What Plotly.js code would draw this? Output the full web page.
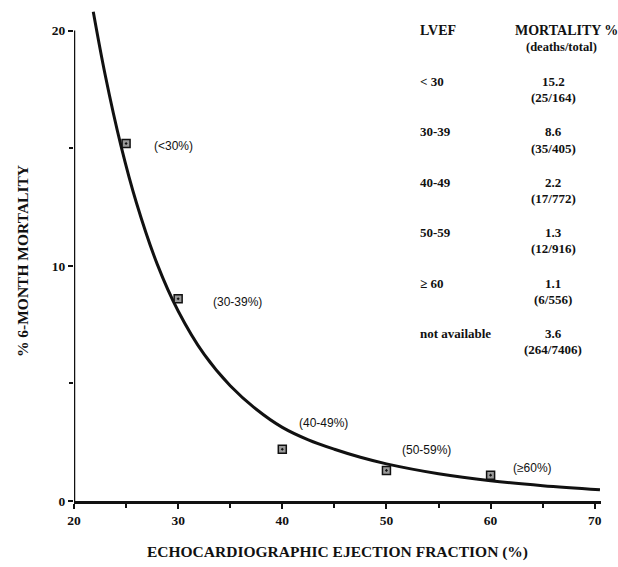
<!DOCTYPE html>
<html>
<head>
<meta charset="utf-8">
<script src="https://cdn.plot.ly/plotly-3.0.1.min.js"></script>
<style>html,body{margin:0;padding:0;background:#fff;}#chart{width:618px;height:567px;}</style>
</head>
<body>
<div id="chart"></div>
<script>
// Table data
const lvefCats = ['< 30', '30-39', '40-49', '50-59', '\u2265 60', 'not available'];
const mortality = [15.2, 8.6, 2.2, 1.3, 1.1, 3.6];
const deaths = [25, 35, 17, 12, 6, 264];
const totals = [164, 405, 772, 916, 556, 7406];

// Plotted group points
const pointX = [25, 30, 40, 50, 60];
const pointY = [15.2, 8.6, 2.2, 1.3, 1.1];
const pointLabels = ['(<30%)', '(30-39%)', '(40-49%)', '(50-59%)', '(\u226560%)'];

// Fitted curve
const curveX = [21.85, 23, 24.5, 26, 28, 30, 32.5, 35, 37.5, 40, 42.5, 45, 47.5, 50, 55, 60, 65, 70.5];
const curveY = [20.8, 18.1, 15.12, 12.67, 10.06, 8.08, 6.23, 4.9, 3.9, 3.13, 2.6, 2.2, 1.86, 1.58, 1.16, 0.86, 0.65, 0.48];

const xTicks = [20, 30, 40, 50, 60, 70];
const yTicks = [0, 10, 20];

const ink = '#111';
const serifB = {family: 'Liberation Serif, Times New Roman, serif', size: 13, color: ink, weight: 'bold'};
const sans = {family: 'Liberation Sans, Arial, sans-serif', size: 12, color: ink};

// layout helpers (pixel -> paper)
const L = 74, T = 0, W = 527, H = 501;
const px = p => (p - L) / W;
const py = p => (H - p) / H;

const annotations = [];
// point labels
const labelOffsets = [[2.46, -0.1], [3.2, -0.12], [1.37, 1.1], [1.3, 0.87], [2.0, 0.29]];
pointX.forEach((x, i) => {
  annotations.push({x: x + labelOffsets[i][0], y: pointY[i] + labelOffsets[i][1], xref: 'x', yref: 'y',
    text: pointLabels[i], showarrow: false, xanchor: 'left', yanchor: 'middle', font: sans});
});
// table header
annotations.push({x: px(418), y: py(31), xref: 'paper', yref: 'paper', text: 'LVEF', showarrow: false,
  xanchor: 'left', yanchor: 'middle', font: Object.assign({}, serifB, {size: 14})});
annotations.push({x: px(513), y: py(31), xref: 'paper', yref: 'paper', text: 'MORTALITY %', showarrow: false,
  xanchor: 'left', yanchor: 'middle', font: Object.assign({}, serifB, {size: 14})});
annotations.push({x: px(561), y: py(47), xref: 'paper', yref: 'paper', text: '(deaths/total)', showarrow: false,
  xanchor: 'center', yanchor: 'middle', font: Object.assign({}, serifB, {size: 12.5})});
const rowTop = [81, 132, 182, 232, 283, 333];
lvefCats.forEach((c, i) => {
  annotations.push({x: px(418), y: py(rowTop[i]), xref: 'paper', yref: 'paper', text: c, showarrow: false,
    xanchor: 'left', yanchor: 'middle', font: serifB});
  annotations.push({x: px(553), y: py(rowTop[i]), xref: 'paper', yref: 'paper', text: mortality[i].toFixed(1), showarrow: false,
    xanchor: 'center', yanchor: 'middle', font: serifB});
  annotations.push({x: px(553), y: py(rowTop[i] + 16), xref: 'paper', yref: 'paper', text: '(' + deaths[i] + '/' + totals[i] + ')', showarrow: false,
    xanchor: 'center', yanchor: 'middle', font: serifB});
});
// y axis title
annotations.push({x: px(22), y: 10.2, xref: 'paper', yref: 'y', text: '% 6-MONTH MORTALITY', textangle: -90,
  showarrow: false, xanchor: 'center', yanchor: 'middle', font: Object.assign({}, serifB, {size: 15.5})});

const data = [
  {x: curveX, y: curveY, type: 'scatter', mode: 'lines', line: {color: ink, width: 3, shape: 'spline', smoothing: 1}, hoverinfo: 'skip'},
  {x: pointX, y: pointY, type: 'scatter', mode: 'markers', cliponaxis: false,
   marker: {symbol: 'square-dot', size: 8, color: '#9a9a9a', line: {color: ink, width: 1.5}}}
];

const layout = {
  width: 618, height: 567,
  margin: {l: L, r: 618 - L - W, t: T, b: 567 - H},
  paper_bgcolor: '#fff', plot_bgcolor: '#fff',
  showlegend: false,
  xaxis: {range: [20, 70.6], tickvals: xTicks, ticktext: xTicks.map(String), ticks: 'outside', ticklen: 5, tickwidth: 2, tickcolor: ink,
    showline: true, linewidth: 2.5, linecolor: ink, showgrid: false, zeroline: false, tickfont: Object.assign({}, serifB, {size: 13.5}),
    minor: {tickvals: [25, 35, 45, 55, 65], ticks: 'outside', ticklen: 4, tickwidth: 2, tickcolor: ink},
    title: {text: 'ECHOCARDIOGRAPHIC EJECTION FRACTION (%)', font: Object.assign({}, serifB, {size: 15.5}), standoff: 20}},
  yaxis: {range: [0, 21.3], tickvals: yTicks, ticktext: yTicks.map(String), ticks: 'outside', ticklen: 5, tickwidth: 2, tickcolor: ink,
    showline: false, showgrid: false, zeroline: false, tickfont: Object.assign({}, serifB, {size: 13.5}),
    minor: {tickvals: [5, 15], ticks: 'outside', ticklen: 4, tickwidth: 2, tickcolor: ink}},
  shapes: [{type: 'line', xref: 'x', yref: 'y', x0: 20, x1: 20, y0: 0, y1: 20, line: {color: ink, width: 2.5}}],
  annotations: annotations
};

Plotly.newPlot('chart', data, layout, {displayModeBar: false, staticPlot: true});
</script>
</body>
</html>
